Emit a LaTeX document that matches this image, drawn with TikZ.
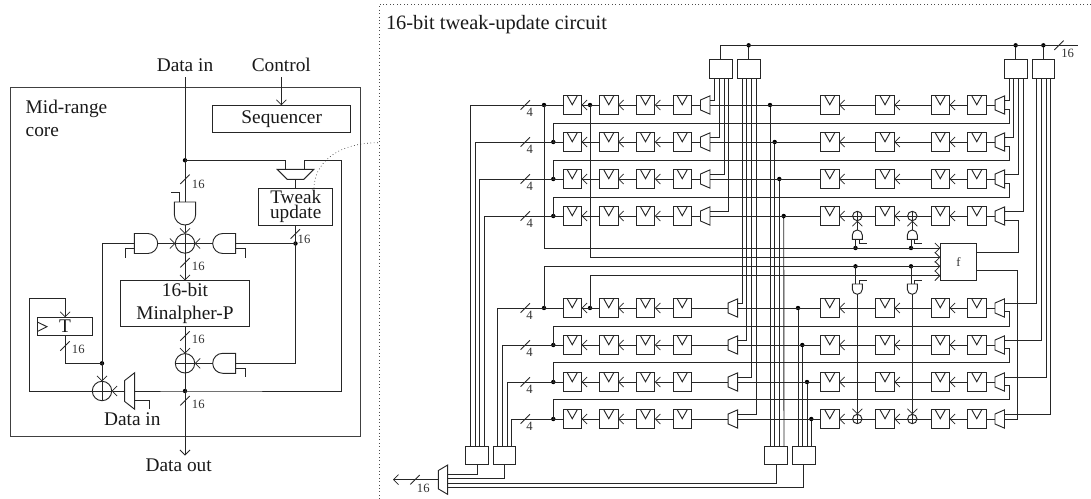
\documentclass[tikz,border=0pt]{standalone}
\usepackage{fontspec}
\setmainfont{Liberation Serif}
\usetikzlibrary{arrows.meta}
\tikzset{
  wire/.style={line width=.7pt,draw=black!85},
  tip/.style={wire,-{Straight Barb[length=3.75pt,width=7.5pt,line width=.55pt]}},
  sz/.style 2 args={minimum width=#1*0.75pt,minimum height=#2*0.75pt},
  boxn/.style={draw=black!85,line width=.7pt,inner sep=0pt,outer sep=0pt,text=black!90},
  ffn/.style={boxn,sz={18.5}{18.5},path picture={
      \draw[wire] ([xshift=-3.75pt]path picture bounding box.north) -- ([yshift=-6.75pt]path picture bounding box.north) -- ([xshift=3.75pt]path picture bounding box.north);}},
  dotn/.style={circle,fill=black,inner sep=0pt,outer sep=0pt,minimum size=3.3pt},
  xorn/.style={circle,draw=black!85,line width=.7pt,inner sep=0pt,outer sep=0pt,minimum size=#1*1.5pt,path picture={
      \draw[wire] (path picture bounding box.north) -- (path picture bounding box.south);
      \draw[wire] (path picture bounding box.west) -- (path picture bounding box.east);}},
  big/.style={inner sep=0pt,outer sep=0pt,text=black!90,font=\fontsize{14.5}{17}\selectfont},
  small/.style={inner sep=0pt,outer sep=0pt,text=black!80,font=\fontsize{9.5}{11}\selectfont},
}
\newcommand{\muxg}[9]{\begin{scope}[shift={(#2,#3)},rotate=#4]
  \draw[wire] (0,-#5) -- (0,#5) -- (-#7,#6) -- (-#7,-#6) -- cycle;
  \coordinate (#1-o) at (-#7,0);
  \coordinate (#1-a) at (0,#8);
  \coordinate (#1-b) at (0,0);
  \coordinate (#1-c) at (0,#9);
\end{scope}}
% name, x, y (middle of flat side), rotation, width, depth
\newcommand{\andg}[6]{\begin{scope}[shift={(#2,#3)},rotate=#4]
  \draw[wire] (0,{-#5/2}) -- ({#6-#5/2},{-#5/2})
     .. controls ({#6-#5/2+.276*#5},{-#5/2}) and (#6,{-.276*#5}) .. (#6,0)
     .. controls (#6,{.276*#5}) and ({#6-#5/2+.276*#5},{#5/2}) .. ({#6-#5/2},{#5/2})
     -- (0,{#5/2}) -- cycle;
  \coordinate (#1-o) at (#6,0);
  \coordinate (#1-m) at (0,0);
  \coordinate (#1-a) at (0,{-#5/4});
  \coordinate (#1-b) at (0,{#5/4});
\end{scope}}
\newcommand{\tickm}[2]{\draw[wire] ({#1-4.7},{#2+4.7}) -- ({#1+4.7},{#2-4.7});}
\begin{document}
\begin{tikzpicture}[x=.75pt,y=-.75pt]
\useasboundingbox (0,0) rectangle (1091,499);
% ---------- frame of the right panel
\draw[line width=.6pt,draw=black!70,dotted] (1091,4) -- (379,4) -- (379,499);
\node[big,anchor=west,font=\fontsize{15.3}{17}\selectfont] (title) at (386,24.5) {16-bit tweak-update circuit};
% ---------- left panel
\node[boxn,sz={350}{349.7},draw=black!75] (core) at (185,261.85) {};
\node[big,anchor=west] (lmid) at (25.7,108.5) {Mid-range};
\node[big,anchor=west] (lcore) at (25.7,132.5) {core};
\node[big] (ldin) at (185,65) {Data in};
\node[big] (lctl) at (281.3,64.5) {Control};
\node[boxn,sz={138}{27.4},big,draw=black!85] (seq) at (281.7,119) {Sequencer};
\node[boxn,sz={74}{37},align=center,font=\fontsize{14.4}{10}\selectfont] (tw) at (295.7,206.8) {Tweak\\update};
\node[boxn,sz={129.4}{46.4},align=center,font=\fontsize{14.5}{17}\selectfont] (minp) at (185,303.5) {16-bit\\Minalpher-P};
\node[boxn,sz={55.7}{18.4},font=\fontsize{14.5}{17}\selectfont] (tbox) at (65.1,326.5) {T};
\draw[wire] (37.3,322) -- (47,326.7) -- (37.3,331.5);
\node[xorn=9.7] (xm) at (185,243.5) {};
\node[xorn=9.7] (xb) at (185,363.3) {};
\node[xorn=9.7] (xl) at (102,391) {};
\node[dotn] (dd) at (185,160.3) {};
\node[dotn] (dr) at (295.5,243.5) {};
\node[dotn] (dt) at (102,363.3) {};
\node[dotn] (do) at (185,391) {};
\coordinate (din) at (185,77.3);
\coordinate (cin) at (281.3,77.3);
\coordinate (dout) at (185,455.5);
\coordinate (tr) at (341.7,160.3);
\coordinate (lp) at (29,298.7);
\coordinate (curveA) at (314,188.3);
\coordinate (curveB) at (379,142.7);
\andg{gt}{185}{202}{-90}{21.4}{23}
\andg{gl}{134.3}{243.5}{0}{20}{23.4}
\andg{gr}{235.7}{243.5}{180}{20}{23}
\andg{gb}{235.7}{363.3}{180}{20}{23}
\muxg{mt}{295.5}{169.3}{90}{18.3}{8.3}{10}{-9.7}{9.2}
\muxg{md}{134.7}{391}{0}{18.3}{10.5}{10}{0}{9}
\draw[wire] (din) -- (gt-m);
\draw[tip] (gt-o) -- (xm.north);
\draw[wire] (gt-b) -- ++(0,-9.3) -- ++(-9,0);
\draw[tip] (cin) -- (seq.north -| cin);
\draw[wire] (dd.center) -| (mt-a);
\draw[wire] (mt-c) |- (tr) |- (do.center) -- (md-b);
\draw[wire] (mt-o) -- (tw.north -| mt-o);
\draw[wire] (tw.south -| dr) -- (dr.center);
\draw[wire] (dr.center) -- (gr-m);
\draw[wire] (dr.center) |- (gb-m);
\draw[tip] (gr-o) -- (xm.east);
\draw[tip] (gl-o) -- (xm.west);
\draw[wire] (gl-b) -- ++(-9.3,0) -- ++(0,9);
\draw[wire] (gr-a) -- ++(9.6,0) -- ++(0,9);
\draw[wire] (gb-a) -- ++(9.6,0) -- ++(0,9);
\draw[wire] (gl-m) -| (dt.center);
\draw[tip] (dt.center) -- (xl.north);
\draw[tip] (xm.south) -- (minp.north);
\draw[tip] (minp.south) -- (xb.north);
\draw[tip] (gb-o) -- (xb.east);
\draw[wire] (xb.south) -- (do.center);
\draw[tip] (do.center) -- (dout);
\draw[tip] (md-o) -- (xl.east);
\draw[wire] (md-c) -- ++(14.3,0) -- ++(0,9.3);
\draw[wire] (xl.west) -| (lp);
\draw[tip] (lp) -| (tbox.north);
\draw[wire] (tbox.south) |- (dt.center);
\node[big] (ldout) at (178.7,465.5) {Data out};
\node[big] (ldin2) at (132.3,419.5) {Data in};
\foreach \x/\y/\lx/\ly in {185/179.3/198.3/184, 185/262.7/198.3/266.5, 295.3/234/304/239.5, 185/336/198.3/339.8, 65/346/78.3/349.2, 185/400.7/198.3/404.8}{
  \tickm{\x}{\y}
  \node[small] at (\lx,\ly) {16};
}
\draw[line width=.5pt,draw=black!85,dotted] (curveA) .. controls (314,165) and (335,142.7) .. (curveB);
% ---------- right panel: boxes
\foreach \rw/\y in {u1/105,u2/142,u3/179,u4/216,l1/308,l2/345,l3/382,l4/419}
  \foreach \cl/\x in {1/572.25,2/608.75,3/645.5,4/682.25,5/829.75,6/885,7/940.25,8/976.75}
    \node[ffn] (\rw c\cl) at (\x,\y) {};
\foreach \nm/\x/\y/\ty/\pa/\pb/\pc/\pd in {
   T1/720.8/68.65/78.05/714.7/719.3/724/728.3,
   T2/748.65/68.65/78.05/742.3/746.7/751.7/756,
   T3/1015.65/68.65/78.05/1009.3/1013.7/1018.3/1023,
   T4/1043.35/68.65/78.05/1036.7/1041.3/1046/1050.7,
   B1/477/455.5/446.1/470.3/475/479.7/484.3,
   B2/504.5/455.5/446.1/497.7/502.3/507/511.3,
   B3/776.35/455.5/446.1/770/774.7/779.3/784,
   B4/803.8/455.5/446.1/798/802.3/807/811.3}{
  \node[boxn,sz={22.8}{18.8}] (\nm) at (\x,\y) {};
  \coordinate (\nm p1) at (\pa,\ty);
  \coordinate (\nm p2) at (\pb,\ty);
  \coordinate (\nm p3) at (\pc,\ty);
  \coordinate (\nm p4) at (\pd,\ty);
}
\node[boxn,sz={36.4}{36.7},small] (f) at (958.5,261.65) {f};
% dots
\foreach \nm/\x/\y in {dp1/544/105,dp2/590/105,dp3/544/308,dp4/590/308,
   fu2/553.3/142,fu3/553.3/179,fu4/553.3/216,fl2/553.3/345,fl3/553.3/382,fl4/553.3/419,
   du1/770/105,du2/774.7/142,du3/779.3/179,du4/783.7/216,
   dl1/798/308,dl2/802.3/345,dl3/807/382,dl4/811.3/419,
   dt2/748.65/45.3,dt3/1015.65/45.3,dt4/1043.35/45.3,
   ga1/855.5/248,ga2/911/248,gb1/855.5/266.3,gb2/911/266.3}
  \node[dotn] (\nm) at (\x,\y) {};
% top bus
\coordinate (busend) at (1078,45.3);
\draw[wire] (T1.north) |- (busend);
\draw[wire] (dt2) -- (T2.north);
\draw[wire] (dt3) -- (T3.north);
\draw[wire] (dt4) -- (T4.north);
\tickm{1059}{45.3}
\node[small] at (1067.7,53.8) {16};
% upper rows
\foreach \rw/\y/\tp in {u1/105/1,u2/142/2,u3/179/3,u4/216/4}{
  \muxg{mL\rw}{710}{\y}{0}{9.15}{5}{9.5}{-4.7}{4.7}
  \muxg{mR\rw}{1004.7}{\y}{0}{9.15}{5}{9.5}{-4.7}{4.7}
  \draw[wire] (T1p\tp) |- (mL\rw-a);
  \draw[wire] (T3p\tp) |- (mR\rw-a);
  \draw[wire] (du\tp) -- (B3p\tp);
  \draw[wire] (\rw c1.west) -| (B1p\tp);
  \tickm{525.3}{\y}
  \node[small] at (529.7,\y+7.7) {4};
}
% lower rows
\foreach \rw/\y/\tp in {l1/308/1,l2/345/2,l3/382/3,l4/419/4}{
  \muxg{mL\rw}{737.7}{\y}{0}{9.15}{5}{9.5}{-4.4}{4.7}
  \muxg{mR\rw}{1004.5}{\y}{0}{9.15}{5}{9.5}{-4.9}{3.5}
  \draw[wire] (T2p\tp) |- (mL\rw-a);
  \draw[wire] (T4p\tp) |- (mR\rw-a);
  \draw[wire] (dl\tp) -- (B4p\tp);
  \draw[wire] (\rw c1.west) -| (B2p\tp);
  \tickm{525.3}{\y}
  \node[small] at (529.5,\y+7.2) {4};
}
% row wires
\foreach \rw in {u1,u2,u3,u4,l1,l2,l3,l4}{
  \draw[tip] (\rw c2.west) -- (\rw c1.east);
  \draw[tip] (\rw c3.west) -- (\rw c2.east);
  \draw[tip] (\rw c4.west) -- (\rw c3.east);
  \draw[wire] (mL\rw-o) -- (\rw c4.east);
  \draw[wire] (\rw c5.west) -- (mL\rw-b);
  \draw[tip] (\rw c8.west) -- (\rw c7.east);
  \draw[wire] (mR\rw-o) -- (\rw c8.east);
}
\foreach \rw in {u1,u2,u3,l1,l2,l3}{
  \draw[tip] (\rw c6.west) -- (\rw c5.east);
  \draw[tip] (\rw c7.west) -- (\rw c6.east);
}
% feedback
\foreach \a/\b/\y in {u1/fu2/123.7,u2/fu3/160.7,u3/fu4/197.3,l1/fl2/326,l2/fl3/362.7,l3/fl4/399.3}{
  \coordinate (fb\a) at (1009.2,\y);
  \draw[wire] (mR\a-c) -| (fb\a) -| (\b.center);
}
% function box
\foreach \n/\y in {1/248,2/257.3,3/266.3,4/275.7}
  \coordinate (fi\n) at (940.3,\y);
\draw[tip] (dp1.center) |- (fi1);
\draw[tip] (dp2.center) |- (fi2);
\draw[tip] (dp3.center) |- (fi3);
\draw[tip] (dp4.center) |- (fi4);
\coordinate (fo1) at (976.7,252.3);
\coordinate (fo2) at (976.7,270.7);
\coordinate (fo1r) at (1018.4,252.3);
\coordinate (fo2r) at (1017.3,270.7);
\draw[wire] (mRu4-c) -| (fo1r) -- (fo1);
\draw[wire] (mRl4-b) -| (fo2r) -- (fo2);
% xors and small gates
\foreach \n/\x in {1/857.3,2/912.3}{
  \node[xorn=4.7] (xu\n) at (\x,216) {};
  \node[xorn=4.7] (xl\n) at (\x,419) {};
  \andg{su\n}{\x}{239.3}{90}{10}{9.3}
  \andg{sl\n}{\x}{284}{-90}{10}{10.3}
  \draw[wire] (ga\n.center) -- (ga\n.center |- su\n-a);
  \draw[wire] (gb\n.center) -- (gb\n.center |- sl\n-b);
  \draw[tip] (su\n-o) -- (xu\n.south);
  \draw[tip] (sl\n-o) -- (xl\n.north);
  \draw[wire] (su\n-b) -- ++(0,3.7) -- ++(7,0);
  \draw[wire] (sl\n-a) -- ++(0,-3.3) -- ++(7,0);
}
\draw[wire] (u4c6.west) -- (xu1.east);
\draw[tip] (xu1.west) -- (u4c5.east);
\draw[wire] (u4c7.west) -- (xu2.east);
\draw[tip] (xu2.west) -- (u4c6.east);
\draw[wire] (l4c6.west) -- (xl1.east);
\draw[tip] (xl1.west) -- (l4c5.east);
\draw[wire] (l4c7.west) -- (xl2.east);
\draw[tip] (xl2.west) -- (l4c6.east);
% output multiplexer
\muxg{mO}{447.7}{479.7}{0}{14.7}{9.15}{9.4}{0}{0}
\coordinate (oend) at (393,479.7);
\draw[tip] (mO-o) -- (oend);
\tickm{415}{479.7}
\node[small] at (423.3,488.2) {16};
\foreach \n/\y in {1/474,2/478.7,3/483.3,4/487.7}
  \coordinate (mOi\n) at (447.7,\y);
\draw[wire] (mOi1) -| (B1.south);
\draw[wire] (mOi2) -| (B2.south);
\draw[wire] (mOi3) -| (B3.south);
\draw[wire] (mOi4) -| (B4.south);
\end{tikzpicture}
\end{document}
